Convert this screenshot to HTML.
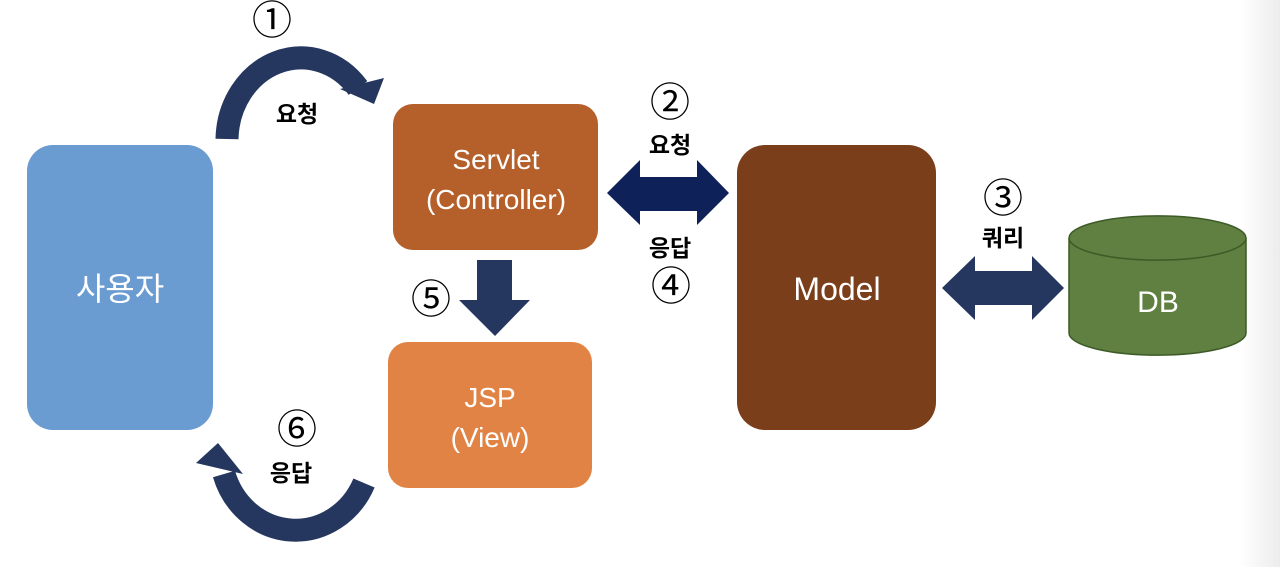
<!DOCTYPE html>
<html><head><meta charset="utf-8"><style>
html,body{margin:0;padding:0;background:#fff;}
svg{display:block;}
text{font-family:"Liberation Sans","Noto Sans CJK KR",sans-serif;}
</style></head><body>
<svg width="1280" height="567" viewBox="0 0 1280 567" xmlns="http://www.w3.org/2000/svg">
<defs>
<linearGradient id="rg" x1="0" x2="1"><stop offset="0" stop-color="#fff"/><stop offset="1" stop-color="#ececec"/></linearGradient>
</defs>
<rect width="1280" height="567" fill="#fff"/>
<rect x="1240" y="0" width="40" height="567" fill="url(#rg)"/>

<rect x="27" y="145" width="186" height="285" rx="26" fill="#6a9bd1"/>
<text x="120" y="300" font-size="32" fill="#fff" text-anchor="middle">사용자</text>

<rect x="393" y="104" width="205" height="146" rx="20" fill="#b5602b"/>
<text x="496" y="169" font-size="28" fill="#fff" text-anchor="middle">Servlet</text>
<text x="496" y="209" font-size="28" fill="#fff" text-anchor="middle">(Controller)</text>

<rect x="388" y="342" width="204" height="146" rx="20" fill="#e08345"/>
<text x="490" y="407" font-size="28" fill="#fff" text-anchor="middle">JSP</text>
<text x="490" y="447" font-size="28" fill="#fff" text-anchor="middle">(View)</text>

<rect x="737" y="145" width="199" height="285" rx="28" fill="#7a3e1a"/>
<text x="837" y="300" font-size="32" fill="#fff" text-anchor="middle">Model</text>

<path d="M1069 238 L1069 333 A88 22 0 0 0 1246 333 L1246 238 A88 22 0 0 0 1069 238 Z" fill="#5f8040" stroke="#3d5a27" stroke-width="1.5"/>
<path d="M1069 238 A88 22 0 0 0 1246 238" fill="none" stroke="#3d5a27" stroke-width="1.5"/>
<text x="1158" y="312" font-size="30" fill="#fff" text-anchor="middle">DB</text>

<polygon points="607,193 640,160 640,177 697,177 697,160 729,193 697,225 697,211 640,211 640,225" fill="#0f2159"/>
<polygon points="942,288 975,256 975,271 1032,271 1032,256 1064,288 1032,320 1032,305 975,305 975,320" fill="#26375f"/>

<polygon points="477,260 512,260 512,300 530,300 495,336 459,300 477,300" fill="#26375f"/>

<path d="M227 139 A74 83 0 0 1 358 88" fill="none" stroke="#26375f" stroke-width="23"/>
<polygon points="340,89 384,78 374,104" fill="#26375f"/>

<path d="M364 483 A75 80 0 0 1 224 474" fill="none" stroke="#26375f" stroke-width="23"/>
<polygon points="196,463 218,443 243,474" fill="#26375f"/>

<g font-size="40" text-anchor="middle" fill="#000">
<text x="272" y="34">①</text>
<text x="670" y="116">②</text>
<text x="1003" y="212">③</text>
<text x="671" y="300">④</text>
<text x="431" y="313">⑤</text>
<text x="297" y="443">⑥</text>
</g>
<g font-size="23" font-weight="bold" text-anchor="middle" fill="#000">
<text x="297" y="122">요청</text>
<text x="670" y="153">요청</text>
<text x="670" y="256">응답</text>
<text x="1003" y="246">쿼리</text>
<text x="291" y="481">응답</text>
</g>
</svg>
</body></html>
